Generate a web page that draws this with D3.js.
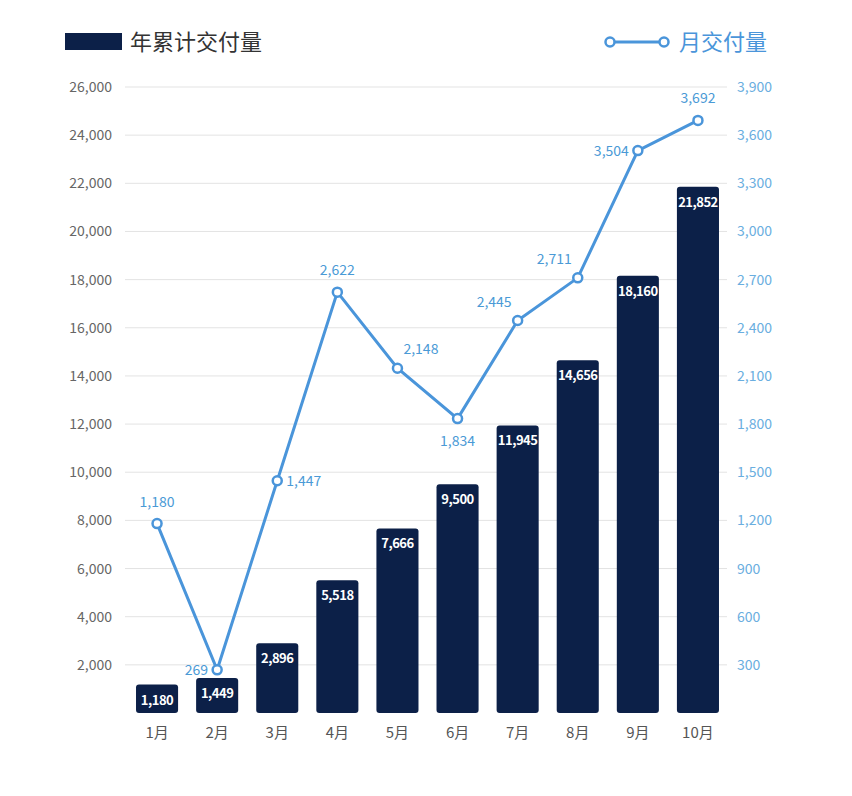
<!DOCTYPE html>
<html><head><meta charset="utf-8">
<script src="https://cdn.jsdelivr.net/npm/d3@7"></script>
<style>body{margin:0;background:#fff}</style></head>
<body><svg id="c" width="852" height="796"></svg>
<script>
const months=["1月","2月","3月","4月","5月","6月","7月","8月","9月","10月"];
const cumulative=[1180,1449,2896,5518,7666,9500,11945,14656,18160,21852];
const monthly=[1180,269,1447,2622,2148,1834,2445,2711,3504,3692];
const labelSide=["top","left","right","top","topright","bottom","topleft","topleft","left","top"];
const leftTicks=d3.range(2000,26001,2000);
const rightTicks=d3.range(300,3901,300);

const svg=d3.select("#c");
const font="'Noto Sans CJK SC','Noto Sans',sans-serif";
const x=d3.scaleBand().domain(months).range([127,728]).paddingInner(0.3).paddingOuter(0.15);
const yL=d3.scaleLinear().domain([0,26000]).range([713,87]);
const yR=d3.scaleLinear().domain([0,3900]).range([713,87]);
const barC="#0c2048", lineC="#4a95da";

svg.append("g").selectAll("line").data(leftTicks).join("line")
 .attr("x1",125).attr("x2",727).attr("y1",d=>yL(d)).attr("y2",d=>yL(d))
 .attr("stroke","#e3e3e3").attr("stroke-width",1);
svg.append("g").selectAll("text").data(leftTicks).join("text")
 .attr("x",112).attr("y",d=>yL(d)+5).attr("text-anchor","end")
 .attr("font-family",font).attr("font-size",14).attr("fill","#666")
 .text(d=>d3.format(",")(d));
svg.append("g").selectAll("text").data(rightTicks).join("text")
 .attr("x",737).attr("y",d=>yR(d)+5).attr("text-anchor","start")
 .attr("font-family",font).attr("font-size",14).attr("fill","#6aaee0")
 .text(d=>d3.format(",")(d));
svg.append("g").selectAll("text").data(months).join("text")
 .attr("x",d=>x(d)+x.bandwidth()/2).attr("y",738).attr("text-anchor","middle")
 .attr("font-family",font).attr("font-size",15).attr("fill","#555").text(d=>d);

svg.append("g").selectAll("rect").data(cumulative).join("rect")
 .attr("x",(d,i)=>x(months[i])).attr("width",x.bandwidth())
 .attr("y",d=>yL(d)).attr("height",d=>713-yL(d)).attr("rx",3).attr("fill",barC);
svg.append("g").selectAll("text").data(cumulative).join("text")
 .attr("x",(d,i)=>x(months[i])+x.bandwidth()/2).attr("y",d=>yL(d)+20)
 .attr("text-anchor","middle").attr("font-family",font).attr("font-size",13)
 .attr("font-weight","bold").attr("fill","#fff").attr("letter-spacing","-0.5")
 .text(d=>d3.format(",")(d));

const cx=i=>x(months[i])+x.bandwidth()/2;
svg.append("path").datum(monthly)
 .attr("d",d3.line().x((d,i)=>cx(i)).y(d=>yR(d)))
 .attr("fill","none").attr("stroke",lineC).attr("stroke-width",3);
svg.append("g").selectAll("circle").data(monthly).join("circle")
 .attr("cx",(d,i)=>cx(i)).attr("cy",d=>yR(d)).attr("r",4.5)
 .attr("fill","#fff").attr("stroke",lineC).attr("stroke-width",2.5);
const off={top:[0,-17,"middle"],left:[-9,5,"end"],right:[9,5,"start"],bottom:[0,27,"middle"],
 topright:[6,-14,"start"],topleft:[-6,-14,"end"]};
svg.append("g").selectAll("text").data(monthly).join("text")
 .attr("x",(d,i)=>cx(i)+off[labelSide[i]][0]).attr("y",(d,i)=>yR(d)+off[labelSide[i]][1])
 .attr("text-anchor",(d,i)=>off[labelSide[i]][2])
 .attr("font-family",font).attr("font-size",14).attr("fill","#4a9ad6")
 .text(d=>d3.format(",")(d));

svg.append("rect").attr("x",65).attr("y",33).attr("width",57).attr("height",17).attr("fill",barC);
svg.append("text").attr("x",130).attr("y",50).attr("font-family",font).attr("font-size",22)
 .attr("fill","#333").text("年累计交付量");
svg.append("line").attr("x1",610).attr("x2",664).attr("y1",42).attr("y2",42).attr("stroke",lineC).attr("stroke-width",3);
[610,664].forEach(v=>svg.append("circle").attr("cx",v).attr("cy",42).attr("r",4.5)
 .attr("fill","#fff").attr("stroke",lineC).attr("stroke-width",2.5));
svg.append("text").attr("x",679).attr("y",50).attr("font-family",font).attr("font-size",22)
 .attr("fill",lineC).text("月交付量");
</script></body></html>
